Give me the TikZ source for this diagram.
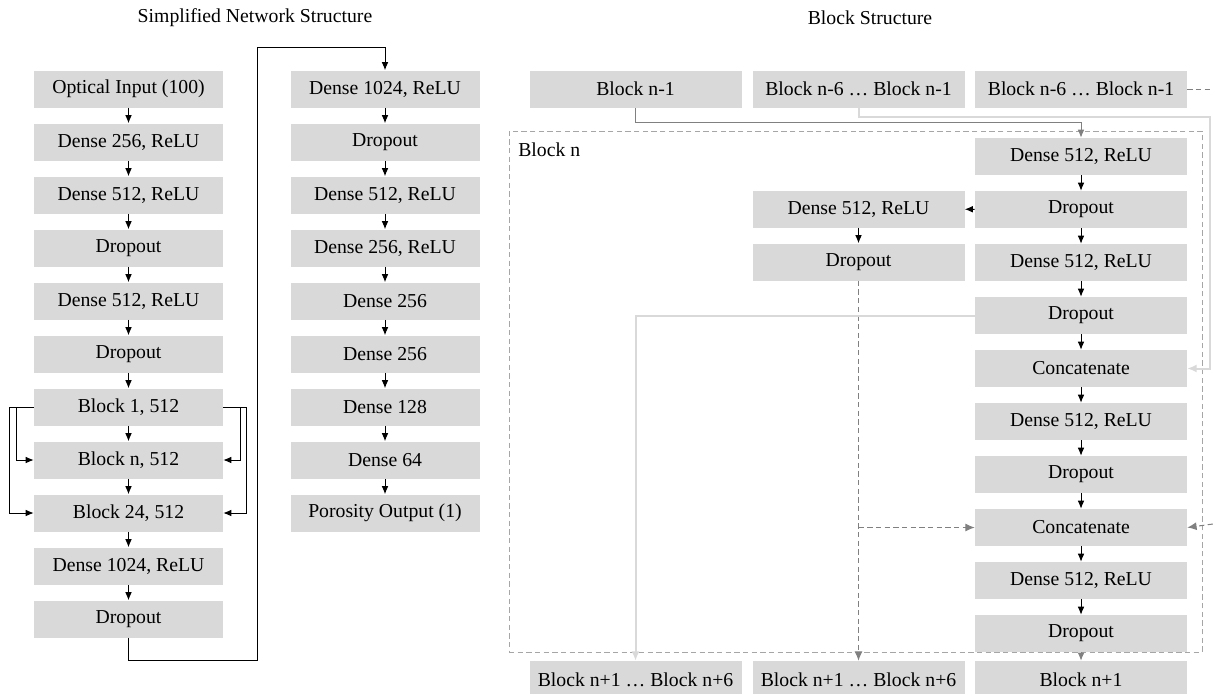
\documentclass[tikz,border=0pt]{standalone}
\usepackage{fontspec}
\setmainfont{Liberation Serif}
\usepackage{xcolor}
\usetikzlibrary{positioning,arrows.meta,calc}

\definecolor{boxgray}{HTML}{D9D9D9}
\definecolor{midgray}{HTML}{808080}
\definecolor{framegray}{HTML}{A6A6A6}

\begin{document}
\begin{tikzpicture}[x=0.75pt, y=-0.75pt, node distance=11.6pt, font=\rmfamily\fontsize{14.8}{17}\selectfont]
    \tikzset{
      layer/.style = {rectangle, fill=boxgray, minimum width=141.75pt, minimum height=27.75pt, inner sep=0pt, text centered},
      wide/.style = {layer, minimum width=159pt},
      arrow/.style = {line width=0.75pt, -{Latex[length=6pt,width=5pt]}},
      grayarrow/.style = {arrow, draw=midgray},
      lightarrow/.style = {line width=1.5pt, draw=boxgray, -{Latex[length=7pt,width=6pt]}},
      dashline/.style = {line width=0.75pt, draw=midgray, dash pattern=on 4pt off 2.5pt},
      dasharrow/.style = {dashline, -{Latex[length=7pt,width=6pt]}}
    }
    \useasboundingbox (0,0) rectangle (1213,693);

    % titles
    \node (title_net) at (255,18) {Simplified Network Structure};
    \node (title_block) at (870,18) {Block Structure};

    % simplified network, first column
    \node (opt_in) [layer] at (128.5,89) {Optical Input (100)};
    \node (dense_256) [layer, below=of opt_in] {Dense 256, ReLU};
    \node (dense_512a) [layer, below=of dense_256] {Dense 512, ReLU};
    \node (drop_a) [layer, below=of dense_512a] {Dropout};
    \node (dense_512b) [layer, below=of drop_a] {Dense 512, ReLU};
    \node (drop_b) [layer, below=of dense_512b] {Dropout};
    \node (block_1) [layer, below=of drop_b] {Block 1, 512};
    \node (block_n) [layer, below=of block_1] {Block n, 512};
    \node (block_24) [layer, below=of block_n] {Block 24, 512};
    \node (dense_1024a) [layer, below=of block_24] {Dense 1024, ReLU};
    \node (drop_c) [layer, below=of dense_1024a] {Dropout};

    % simplified network, second column
    \node (dense_1024b) [layer] at (385,89) {Dense 1024, ReLU};
    \node (drop_d) [layer, below=of dense_1024b] {Dropout};
    \node (dense_512c) [layer, below=of drop_d] {Dense 512, ReLU};
    \node (dense_256a) [layer, below=of dense_512c] {Dense 256, ReLU};
    \node (dense_256b) [layer, below=of dense_256a] {Dense 256};
    \node (dense_256c) [layer, below=of dense_256b] {Dense 256};
    \node (dense_128) [layer, below=of dense_256c] {Dense 128};
    \node (dense_64) [layer, below=of dense_128] {Dense 64};
    \node (poro_out) [layer, below=of dense_64] {Porosity Output (1)};
    \coordinate (jump) at (257,47);

    \draw [arrow] (opt_in) -- (dense_256);
    \draw [arrow] (dense_256) -- (dense_512a);
    \draw [arrow] (dense_512a) -- (drop_a);
    \draw [arrow] (drop_a) -- (dense_512b);
    \draw [arrow] (dense_512b) -- (drop_b);
    \draw [arrow] (drop_b) -- (block_1);
    \draw [arrow] (block_1) -- (block_n);
    \draw [arrow] (block_n) -- (block_24);
    \draw [arrow] (block_24) -- (dense_1024a);
    \draw [arrow] (dense_1024a) -- (drop_c);
    \draw [arrow] (block_1.west) -- ++(-17,0) |- (block_n.west);
    \draw [arrow] (block_1.west) -- ++(-24,0) |- (block_24.west);
    \draw [arrow] (block_1.east) -- ++(17,0) |- (block_n.east);
    \draw [arrow] (block_1.east) -- ++(23,0) |- (block_24.east);
    \draw [arrow] (drop_c.south) -- ++(0,23) -| (jump) -| (dense_1024b.north);
    \draw [arrow] (dense_1024b) -- (drop_d);
    \draw [arrow] (drop_d) -- (dense_512c);
    \draw [arrow] (dense_512c) -- (dense_256a);
    \draw [arrow] (dense_256a) -- (dense_256b);
    \draw [arrow] (dense_256b) -- (dense_256c);
    \draw [arrow] (dense_256c) -- (dense_128);
    \draw [arrow] (dense_128) -- (dense_64);
    \draw [arrow] (dense_64) -- (poro_out);

    % block structure
    \node (frame_n) [draw=framegray, line width=0.75pt, dash pattern=on 4pt off 2.5pt, minimum width=519.75pt, minimum height=390.75pt, inner sep=0pt] at (855.5,391.5) {};
    \node (frame_label) [anchor=west, inner sep=0pt] at (518,150) {Block n};

    \node (prev_1) [wide] at (635.5,89) {Block n-1};
    \node (prev_6a) [wide] at (858.5,89) {Block n-6 … Block n-1};
    \node (prev_6b) [wide] at (1081,89) {Block n-6 … Block n-1};

    \node (r_dense1) [wide] at (1081,156.5) {Dense 512, ReLU};
    \node (r_drop1) [wide, below=of r_dense1] {Dropout};
    \node (r_dense2) [wide, below=of r_drop1] {Dense 512, ReLU};
    \node (r_drop2) [wide, below=of r_dense2] {Dropout};
    \node (r_cat1) [wide, below=of r_drop2] {Concatenate};
    \node (r_dense3) [wide, below=of r_cat1] {Dense 512, ReLU};
    \node (r_drop3) [wide, below=of r_dense3] {Dropout};
    \node (r_cat2) [wide, below=of r_drop3] {Concatenate};
    \node (r_dense4) [wide, below=of r_cat2] {Dense 512, ReLU};
    \node (r_drop4) [wide, below=of r_dense4] {Dropout};

    \node (i_dense) [wide] at (858.5,209) {Dense 512, ReLU};
    \node (i_drop) [wide, below=of i_dense] {Dropout};

    \node (next_6a) [wide] at (635.5,679.5) {Block n+1 … Block n+6};
    \node (next_6b) [wide] at (858.5,679.5) {Block n+1 … Block n+6};
    \node (next_1) [wide] at (1081,679.5) {Block n+1};

    \coordinate (rim) at ($(r_cat1.east)+(23,0)$);
    \coordinate (edge_top) at (1213,89);
    \coordinate (edge_cat) at (1213,524);

    \draw [grayarrow] (prev_1.south) -- ++(0,15) -| (r_dense1.north);
    \draw [lightarrow] (prev_6a.south) -- ++(0,9) -| (rim) -- (r_cat1.east);
    \draw [dashline] (prev_6b.east) -- (edge_top);
    \draw [dasharrow] (edge_cat) -- (r_cat2.east);
    \draw [arrow] (r_dense1) -- (r_drop1);
    \draw [arrow] (r_drop1) -- (r_dense2);
    \draw [arrow] (r_dense2) -- (r_drop2);
    \draw [arrow] (r_drop2) -- (r_cat1);
    \draw [arrow] (r_cat1) -- (r_dense3);
    \draw [arrow] (r_dense3) -- (r_drop3);
    \draw [arrow] (r_drop3) -- (r_cat2);
    \draw [arrow] (r_cat2) -- (r_dense4);
    \draw [arrow] (r_dense4) -- (r_drop4);
    \draw [arrow] (r_drop1) -- (i_dense);
    \draw [arrow] (i_dense) -- (i_drop);
    \draw [dasharrow] (i_drop.south) -- (next_6b.north);
    \draw [dasharrow] (i_drop.south |- r_cat2.west) -- (r_cat2.west);
    \draw [lightarrow] (r_drop2.west) -| (next_6a.north);
    \draw [grayarrow] (r_drop4.south) -- (next_1.north);
\end{tikzpicture}
\end{document}
